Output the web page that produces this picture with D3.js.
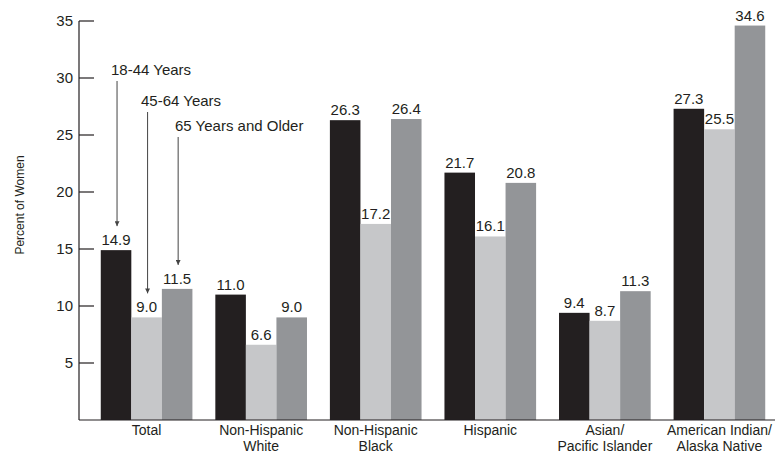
<!DOCTYPE html>
<html>
<head>
<meta charset="utf-8">
<script src="https://cdn.jsdelivr.net/npm/d3@7"></script>
<style>
  body { margin: 0; background: #fff; }
  text { font-family: "Liberation Sans", Arial, sans-serif; fill: #231f20; }
</style>
</head>
<body>
<script>
// Categories (two-line labels) and age-group series
var categories = ["Total", "Non-Hispanic White", "Non-Hispanic Black", "Hispanic", "Asian/ Pacific Islander", "American Indian/ Alaska Native"];
var categoryLines = [["Total"], ["Non-Hispanic", "White"], ["Non-Hispanic", "Black"], ["Hispanic"], ["Asian/", "Pacific Islander"], ["American Indian/", "Alaska Native"]];
var series = ["18-44 Years", "45-64 Years", "65 Years and Older"];
var age18to44 = [14.9, 11.0, 26.3, 21.7, 9.4, 27.3];
var age45to64 = [9.0, 6.6, 17.2, 16.1, 8.7, 25.5];
var age65plus = [11.5, 9.0, 26.4, 20.8, 11.3, 34.6];
var yTicks = [5, 10, 15, 20, 25, 30, 35];

var values = [age18to44, age45to64, age65plus];
var colors = ["#231f20", "#c6c7c9", "#939598"];

var width = 780, height = 454;
var svg = d3.select("body").append("svg")
  .attr("width", width)
  .attr("height", height);

var x0 = d3.scaleBand().domain(categories).range([79, 787]).paddingInner(0.2).paddingOuter(0.19);
var x1 = d3.scaleBand().domain(series).range([0, x0.bandwidth()]);
var y = d3.scaleLinear().domain([0, 35]).range([420, 21]);

// y axis: line with inward ticks, labels on the left
var yAxis = svg.append("g").attr("transform", "translate(79,0)");
yAxis.append("line").attr("x1", 0).attr("x2", 0).attr("y1", y(35)).attr("y2", y(0))
  .attr("stroke", "#231f20").attr("stroke-width", 1.2);
yAxis.selectAll(".tick").data(yTicks).enter().append("line")
  .attr("x1", 0).attr("x2", 15).attr("y1", d => y(d)).attr("y2", d => y(d))
  .attr("stroke", "#231f20").attr("stroke-width", 1.2);
yAxis.selectAll(".lab").data(yTicks).enter().append("text")
  .attr("x", -6).attr("y", d => y(d)).attr("dy", "0.35em")
  .attr("text-anchor", "end").style("font-size", "15px")
  .text(d => d);

svg.append("text")
  .attr("transform", "translate(24,205) rotate(-90)")
  .attr("text-anchor", "middle").style("font-size", "12px")
  .text("Percent of Women");

// bars
var groups = svg.selectAll(".grp").data(categories).enter().append("g")
  .attr("transform", d => "translate(" + x0(d) + ",0)");

groups.each(function (c, i) {
  var g = d3.select(this);
  series.forEach(function (s, j) {
    var v = values[j][i];
    g.append("rect")
      .attr("x", x1(s)).attr("width", x1.bandwidth())
      .attr("y", y(v)).attr("height", y(0) - y(v))
      .attr("fill", colors[j]);
    g.append("text")
      .attr("x", x1(s) + x1.bandwidth() / 2).attr("y", y(v) - 5)
      .attr("text-anchor", "middle").style("font-size", "15px")
      .text(v.toFixed(1));
  });
  g.append("text")
    .attr("x", x0.bandwidth() / 2).attr("y", 435)
    .attr("text-anchor", "middle").style("font-size", "14px")
    .selectAll("tspan").data(categoryLines[i]).enter().append("tspan")
    .attr("x", x0.bandwidth() / 2).attr("dy", (d, k) => k ? 16 : 0)
    .text(d => d);
});

// baseline
svg.append("line").attr("x1", 79).attr("x2", 775).attr("y1", y(0)).attr("y2", y(0))
  .attr("stroke", "#231f20").attr("stroke-width", 1.2);

// legend callouts with arrows pointing at the Total bars
svg.append("defs").append("marker")
  .attr("id", "arr").attr("viewBox", "0 0 10 10").attr("refX", 10).attr("refY", 5)
  .attr("markerWidth", 5).attr("markerHeight", 5).attr("orient", "auto")
  .append("path").attr("d", "M0,0L10,5L0,10Z").attr("fill", "#444");

var legendTextY = [75, 106, 131];
var legendTextX = [111, 141, 175];
series.forEach(function (s, j) {
  var cx = x0(categories[0]) + x1(s) + x1.bandwidth() / 2 + 1;
  var v = values[j][0];
  svg.append("text")
    .attr("x", legendTextX[j]).attr("y", legendTextY[j])
    .style("font-size", "15px").text(s);
  svg.append("line")
    .attr("x1", cx).attr("x2", cx)
    .attr("y1", legendTextY[j] + 6).attr("y2", y(v) - 24)
    .attr("stroke", "#444").attr("stroke-width", 1)
    .attr("marker-end", "url(#arr)");
});
</script>
</body>
</html>
